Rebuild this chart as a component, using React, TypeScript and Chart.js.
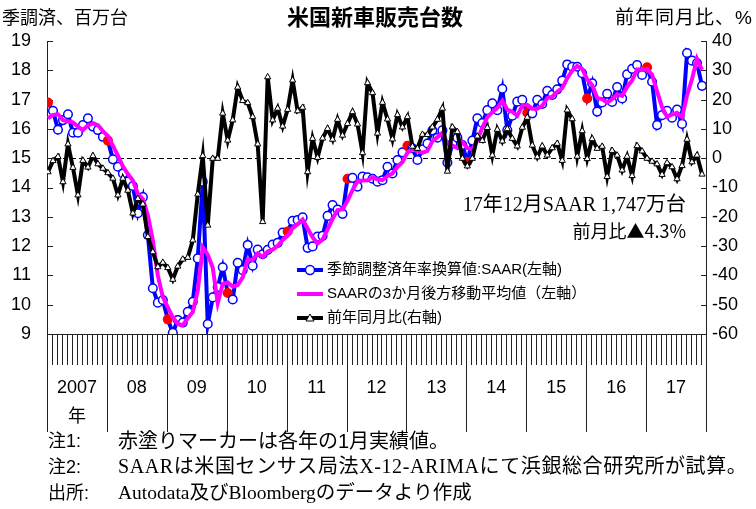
import { useEffect, useRef } from "react";
import { Chart, registerables } from "chart.js";

Chart.register(...registerables);

// Monthly series, Jan 2007 – Dec 2017 (132 months)
// Seasonally adjusted annual rate, million units (left axis)
const saar: number[] = [
  16.9, 16.62, 15.97, 16.3, 16.5, 15.87, 15.87, 16.13, 16.36, 16.08, 15.96, 15.73,
  15.6, 14.96, 14.71, 14.48, 14.2, 14.05, 13.12, 13.67, 12.38, 10.56, 10.07, 10.16,
  9.5, 9.04, 9.48, 9.39, 9.76, 10.1, 11.58, 14.2, 9.34, 10.25, 10.6, 11.28,
  10.4, 10.18, 11.43, 11.18, 12.04, 11.33, 11.88, 11.72, 11.87, 12.05, 12.11, 12.46,
  12.5, 12.86, 12.89, 12.98, 11.94, 11.99, 12.33, 12.35, 13.03, 13.4, 13.25, 13.1,
  14.3, 14.33, 14.03, 14.37, 14.35, 14.3, 14.2, 14.25, 14.71, 14.48, 14.94, 15.2,
  15.42, 15.34, 14.94, 15.3, 15.5, 15.95, 15.7, 15.95, 14.85, 15.5, 15.7, 15.45,
  14.88, 15.6, 16.36, 16.2, 16.64, 16.87, 16.64, 17.37, 15.96, 16.45, 16.93, 16.99,
  16.55, 16.53, 16.99, 16.85, 17.3, 17.16, 17.35, 17.65, 18.2, 18.12, 18.12, 17.9,
  17.04, 17.56, 16.59, 16.9, 17.2, 16.92, 17.43, 17.04, 17.86, 18.05, 18.18, 17.84,
  18.1, 17.61, 16.13, 16.47, 16.62, 16.38, 16.66, 16.17, 18.59, 18.33, 18.25, 17.47,
];

// 3-month trailing average of SAAR (left axis)
const saarAvg3: number[] = [
  16.36, 16.48, 16.5, 16.3, 16.26, 16.22, 16.08, 15.96, 16.12, 16.19, 16.13, 15.92,
  15.76, 15.43, 15.09, 14.72, 14.46, 14.24, 13.79, 13.61, 13.05, 12.2, 11.0, 10.26,
  9.91, 9.57, 9.34, 9.3, 9.54, 9.75, 10.48, 11.96, 11.71, 11.26, 10.06, 10.71,
  10.76, 10.62, 10.67, 10.93, 11.55, 11.52, 11.75, 11.64, 11.82, 11.88, 12.01, 12.21,
  12.36, 12.61, 12.75, 12.91, 12.6, 12.3, 12.09, 12.22, 12.57, 12.93, 13.23, 13.25,
  13.55, 13.91, 14.22, 14.24, 14.25, 14.34, 14.28, 14.25, 14.39, 14.48, 14.71, 14.87,
  15.19, 15.32, 15.23, 15.19, 15.25, 15.58, 15.72, 15.87, 15.5, 15.43, 15.35, 15.55,
  15.34, 15.31, 15.61, 16.05, 16.4, 16.57, 16.72, 16.96, 16.66, 16.59, 16.45, 16.79,
  16.82, 16.69, 16.69, 16.79, 17.05, 17.1, 17.27, 17.39, 17.73, 17.99, 18.15, 18.05,
  17.69, 17.5, 17.06, 17.02, 16.9, 17.01, 17.18, 17.13, 17.44, 17.65, 18.03, 18.02,
  18.04, 17.85, 17.28, 16.74, 16.41, 16.49, 16.55, 16.4, 17.14, 17.7, 18.39, 18.02,
];

// Year-on-year change, % (right axis)
const yoy: number[] = [
  -4.7, -0.9, 0.5, -8.1, 4.8, -3.2, -12.6, -0.8, -3.1, 0.8, -2.0, -3.5,
  -5.0, -6.9, -12.6, -6.9, -11.0, -18.8, -13.8, -15.7, -26.8, -32.0, -37.1, -35.6,
  -37.4, -41.4, -36.9, -34.5, -33.9, -28.0, -12.3, 0.8, -22.9, -0.1, -0.1, 15.3,
  6.1, 13.0, 24.2, 19.6, 18.9, 14.1, 4.8, -21.7, 27.7, 13.0, 17.0, 10.9,
  16.6, 26.6, 16.1, 17.3, -4.7, 6.7, 0.2, 6.8, 10.1, 6.4, 13.2, 7.8,
  11.8, 15.8, 11.6, 1.8, 25.7, 22.3, 8.5, 19.0, 13.3, 6.5, 14.8, 10.6,
  14.1, 4.0, 3.3, 8.1, 8.0, 10.6, 13.2, 17.0, -4.5, 10.6, 9.0, -0.1,
  -2.7, -0.1, 7.5, 6.0, 10.4, 1.0, 9.8, 5.8, 10.0, 6.7, 4.1, 10.5,
  13.9, 4.4, 0.4, 4.1, 1.0, 3.5, 5.0, -0.8, 16.4, 13.4, 0.6, 9.3,
  -0.2, 6.6, 3.3, 4.0, -6.3, 2.6, 1.0, -4.1, 0.6, -6.0, 4.2, 2.4,
  -0.1, -1.1, -2.0, -5.6, -1.6, -3.0, -7.1, -2.6, 6.4, -1.3, 1.0, -5.5,
];

const yearLabels = ["2007", "08", "09", "10", "11", "12", "13", "14", "15", "16", "17"];
const leftTicks = [9, 10, 11, 12, 13, 14, 15, 16, 17, 18, 19];
const rightTicks = [-60, -50, -40, -30, -20, -10, 0, 10, 20, 30, 40];

const legendLabels = [
  "季節調整済年率換算値:SAAR(左軸)",
  "SAARの3か月後方移動平均値（左軸）",
  "前年同月比(右軸)",
];
const titleText = "米国新車販売台数";
const leftUnit = "季調済、百万台";
const rightUnit = "前年同月比、%";
const noteLine1 = "17年12月SAAR 1,747万台";
const noteLine2 = "前月比▲4.3%";
const footLabels = ["注1:", "注2:", "出所:"];
const footTexts = [
  "赤塗りマーカーは各年の1月実績値。",
  "SAARは米国センサス局法X-12-ARIMAにて浜銀総合研究所が試算。",
  "Autodata及びBloombergのデータより作成",
];

const SANS = '"Liberation Sans", "Noto Sans CJK JP", sans-serif';
const SERIF = '"Liberation Serif", "Noto Sans CJK JP", serif';
const CJK = '"Noto Sans CJK JP", "Liberation Sans", sans-serif';
const BLUE = "#0000ff";
const MAGENTA = "#ff00ff";
const RED = "#ff0000";

const W = 756;
const H = 509;

const decorations = {
  id: "decorations",
  beforeDatasetsDraw(chart: any) {
    const { ctx, chartArea, scales } = chart;
    const { left, right, top, bottom } = chartArea;
    const x = scales.x;
    const yL = scales.y;
    const yR = scales.y2;
    const crisp = (v: number) => Math.round(v) + 0.5;
    ctx.save();

    // zero line of the right axis
    const z = crisp(yR.getPixelForValue(0));
    ctx.strokeStyle = "#000";
    ctx.lineWidth = 1;
    ctx.setLineDash([5, 3]);
    ctx.beginPath();
    ctx.moveTo(left, z);
    ctx.lineTo(right, z);
    ctx.stroke();
    ctx.setLineDash([]);

    // axis lines
    ctx.strokeStyle = "#222";
    ctx.lineWidth = 1;
    ctx.beginPath();
    ctx.moveTo(crisp(left), top);
    ctx.lineTo(crisp(left), bottom);
    ctx.moveTo(crisp(right), top);
    ctx.lineTo(crisp(right), bottom);
    ctx.moveTo(left, crisp(bottom));
    ctx.lineTo(right + 1, crisp(bottom));
    ctx.stroke();

    // inner ticks on both value axes
    ctx.beginPath();
    for (const v of leftTicks) {
      const py = crisp(yL.getPixelForValue(v));
      ctx.moveTo(left, py);
      ctx.lineTo(left + 6, py);
    }
    for (const v of rightTicks) {
      const py = crisp(yR.getPixelForValue(v));
      ctx.moveTo(right - 5, py);
      ctx.lineTo(right + 1, py);
    }
    ctx.stroke();

    // month ticks and year separators under the axis
    ctx.beginPath();
    for (let j = 0; j <= saar.length; j++) {
      const px = crisp(Math.min(x.getPixelForValue(j - 0.2), right));
      const len = j % 12 === 0 ? 98 : 31;
      ctx.moveTo(px, bottom);
      ctx.lineTo(px, bottom + len);
    }
    ctx.stroke();

    // axis labels
    ctx.fillStyle = "#000";
    ctx.font = `18px ${SANS}`;
    ctx.textBaseline = "middle";
    ctx.textAlign = "right";
    for (const v of leftTicks) {
      ctx.fillText(String(v), left - 16, yL.getPixelForValue(v));
    }
    ctx.textAlign = "left";
    for (const v of rightTicks) {
      ctx.fillText(String(v), right + 6, yR.getPixelForValue(v));
    }

    // year labels
    ctx.textAlign = "center";
    ctx.font = `18px ${SANS}`;
    yearLabels.forEach((lab, k) => {
      const cx = x.getPixelForValue(k * 12 + 5.8);
      ctx.fillText(lab, cx, bottom + 54);
      if (k === 0) ctx.fillText("年", cx, bottom + 83);
    });
    ctx.restore();
  },
  afterDraw(chart: any) {
    const { ctx } = chart;
    ctx.save();
    ctx.fillStyle = "#000";
    ctx.textBaseline = "middle";

    // title and axis units
    ctx.font = `bold 22px ${SANS}`;
    ctx.textAlign = "center";
    ctx.fillText(titleText, 375, 19);
    ctx.font = `18px ${SANS}`;
    ctx.textAlign = "left";
    ctx.fillText(leftUnit, 2, 19);
    ctx.font = `19px ${SANS}`;
    ctx.textAlign = "right";
    ctx.letterSpacing = "1px";
    ctx.fillText(rightUnit, 753, 19);
    ctx.letterSpacing = "0px";

    // latest value note
    ctx.font = `20px ${SERIF}`;
    ctx.fillText(noteLine1, 686, 206);
    ctx.font = `18px ${CJK}`;
    ctx.fillText(noteLine2, 686, 231);

    // legend
    const rows = [270, 294, 318];
    const lx0 = 297;
    const lx1 = 323;
    const mx = 310;
    ctx.lineWidth = 4;
    ctx.lineCap = "butt";
    const colors = [BLUE, MAGENTA, "#000"];
    rows.forEach((ry, k) => {
      ctx.strokeStyle = colors[k];
      ctx.beginPath();
      ctx.moveTo(lx0, ry);
      ctx.lineTo(lx1, ry);
      ctx.stroke();
    });
    // circle marker
    ctx.lineWidth = 1.5;
    ctx.strokeStyle = BLUE;
    ctx.fillStyle = "#fff";
    ctx.beginPath();
    ctx.arc(mx, rows[0], 4.5, 0, Math.PI * 2);
    ctx.fill();
    ctx.stroke();
    // triangle marker
    ctx.strokeStyle = "#000";
    ctx.lineWidth = 1;
    ctx.beginPath();
    ctx.moveTo(mx, rows[2] - 4);
    ctx.lineTo(mx + 4, rows[2] + 3);
    ctx.lineTo(mx - 4, rows[2] + 3);
    ctx.closePath();
    ctx.fill();
    ctx.stroke();

    ctx.fillStyle = "#000";
    ctx.textAlign = "left";
    ctx.font = `15px ${SANS}`;
    legendLabels.forEach((t, k) => ctx.fillText(t, 327, rows[k]));

    // footnotes
    const fy = [442, 468, 494];
    footLabels.forEach((t, k) => {
      ctx.font = `18px ${SANS}`;
      ctx.letterSpacing = "0px";
      ctx.fillText(t, 48, fy[k]);
      if (k === 0) {
        ctx.font = `20px ${SANS}`;
      } else if (k === 1) {
        ctx.font = `20px ${SERIF}`;
        ctx.letterSpacing = "0.6px";
      } else {
        ctx.font = `19.5px ${SERIF}`;
      }
      ctx.fillText(footTexts[k], 118, fy[k]);
    });
    ctx.letterSpacing = "0px";
    ctx.restore();
  },
};

export default function App() {
  const ref = useRef<HTMLCanvasElement>(null);

  useEffect(() => {
    document.body.style.margin = "0";
    const canvas = ref.current;
    if (!canvas) return;

    const isJan = saar.map((_, i) => i % 12 === 0);

    const chart = new Chart(canvas, {
      type: "line",
      data: {
        datasets: [
          {
            label: legendLabels[2],
            data: yoy.map((v, i) => ({ x: i, y: v })),
            yAxisID: "y2",
            borderColor: "#000",
            borderWidth: 4,
            pointStyle: "triangle",
            pointRadius: 3.6,
            pointBackgroundColor: "#fff",
            pointBorderColor: "#000",
            pointBorderWidth: 1,
            tension: 0,
          },
          {
            label: legendLabels[1],
            data: saarAvg3.map((v, i) => ({ x: i, y: v })),
            yAxisID: "y",
            borderColor: MAGENTA,
            borderWidth: 4,
            pointRadius: 0,
            tension: 0,
          },
          {
            label: legendLabels[0],
            data: saar.map((v, i) => ({ x: i, y: v })),
            yAxisID: "y",
            borderColor: BLUE,
            borderWidth: 4,
            pointRadius: 4.3,
            pointBackgroundColor: isJan.map((j) => (j ? RED : "#fff")),
            pointBorderColor: isJan.map((j) => (j ? RED : BLUE)),
            pointBorderWidth: 1.5,
            tension: 0,
          },
        ],
      },
      options: {
        responsive: false,
        animation: false,
        devicePixelRatio: 1,
        layout: { padding: { left: 47, right: 50, top: 41, bottom: 175 } },
        plugins: { legend: { display: false }, tooltip: { enabled: false } },
        scales: {
          x: { type: "linear", min: -0.2, max: 131.8, display: false },
          y: { type: "linear", min: 9, max: 19, display: false },
          y2: { type: "linear", min: -60, max: 40, display: false },
        },
      },
      plugins: [decorations],
    });

    return () => chart.destroy();
  }, []);

  return (
    <div style={{ position: "absolute", left: 0, top: 0, width: W, height: H, background: "#fff" }}>
      <canvas ref={ref} width={W} height={H} style={{ display: "block" }} />
    </div>
  );
}
